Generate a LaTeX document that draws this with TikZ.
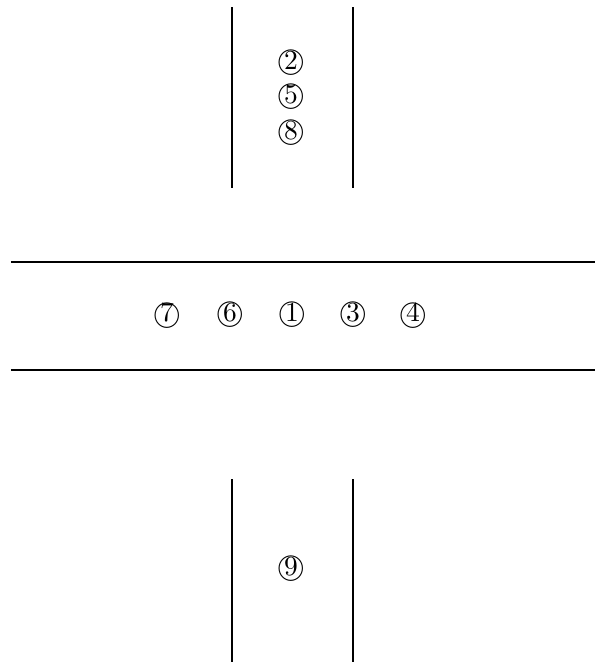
\documentclass[tikz,border=0pt]{standalone}
\usepackage{tikz}

\newcommand{\cnum}[1]{\textcircled{#1}}

\begin{document}
\begin{tikzpicture}[
  x=0.3636pt, y=-0.3636pt,
  road/.style={line width=0.7pt},
  car/.style={inner sep=0pt, font=\normalsize}
]
\useasboundingbox (0,0) rectangle (595,662);
% north arm
\draw[road] (232,7) -- (232,188);
\draw[road] (353,7) -- (353,188);
% main road
\draw[road] (11,262) -- (595,262);
\draw[road] (11,370) -- (595,370);
% south arm
\draw[road] (232,479) -- (232,662);
\draw[road] (353,479) -- (353,662);
% cars
\node[car] (c2) at (291,63) {\cnum{2}};
\node[car] (c5) at (291,97) {\cnum{5}};
\node[car] (c8) at (291,133) {\cnum{8}};
\node[car] (c7) at (167,315) {\cnum{7}};
\node[car] (c6) at (230,315) {\cnum{6}};
\node[car] (c1) at (292,315) {\cnum{1}};
\node[car] (c3) at (353,315) {\cnum{3}};
\node[car] (c4) at (413,315) {\cnum{4}};
\node[car] (c9) at (291,569) {\cnum{9}};
\end{tikzpicture}
\end{document}
